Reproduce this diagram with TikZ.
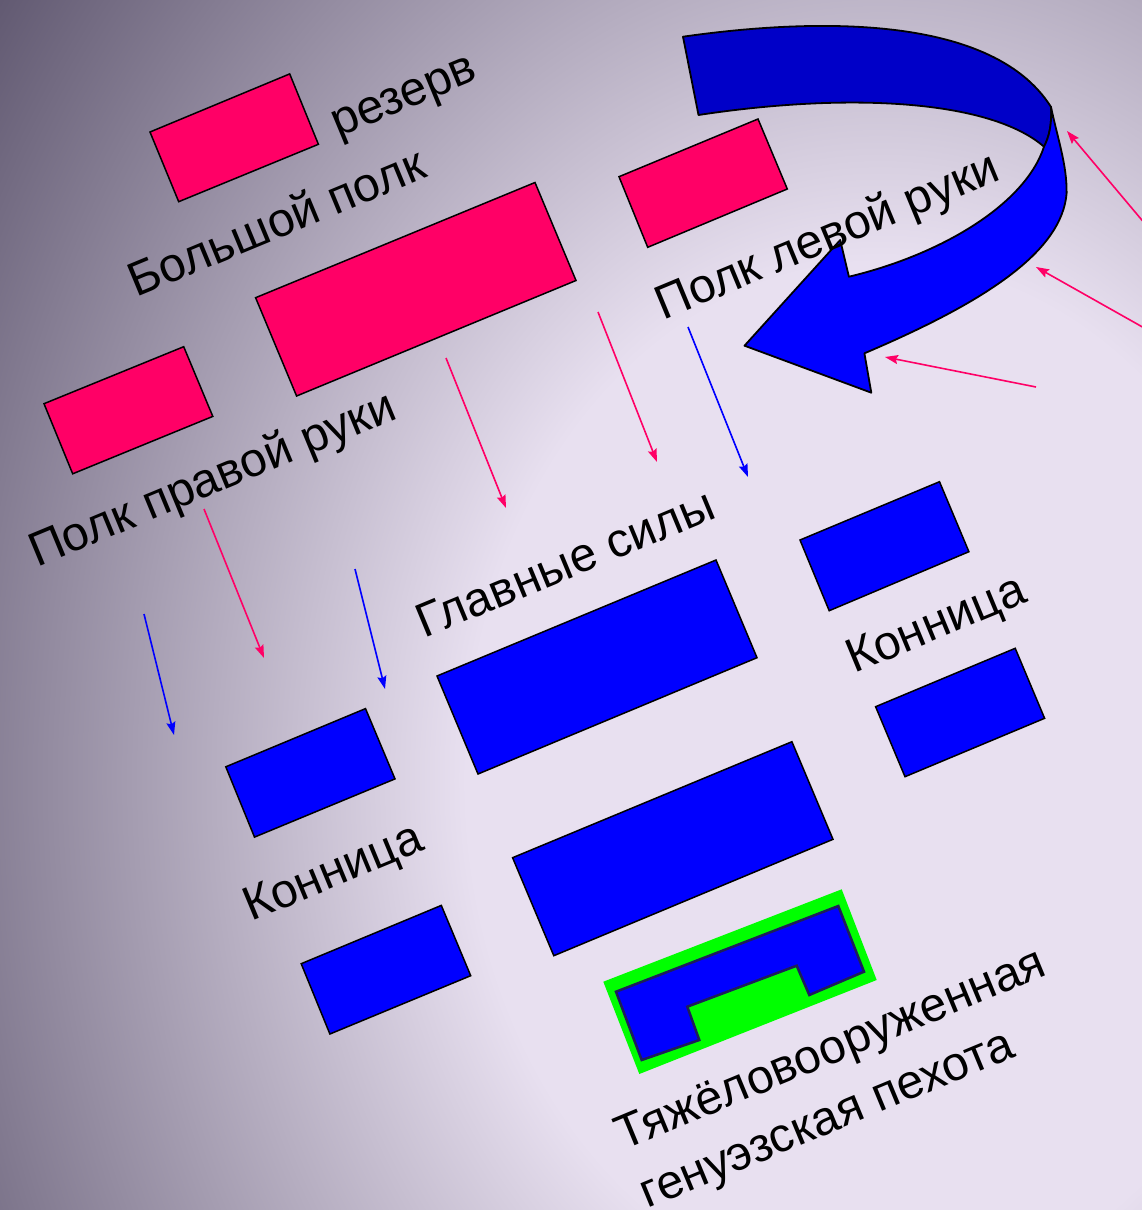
\documentclass[tikz,border=0pt]{standalone}
\usepackage{fontspec}
\setmainfont{Liberation Sans}
\usetikzlibrary{arrows.meta}
\definecolor{pinkc}{HTML}{FF0066}
\definecolor{bluec}{HTML}{0000FF}
\definecolor{ribbondark}{HTML}{0000C8}
\definecolor{greenc}{HTML}{00FF00}
\definecolor{glowc}{HTML}{1E1E5A}
\definecolor{bgl}{HTML}{E8E0F0}
\definecolor{bgd}{HTML}{625A72}
\definecolor{bge}{HTML}{5C546C}
\pgfdeclareradialshading{bgshade}{\pgfpoint{0bp}{0bp}}{color(0bp)=(bgl); color(9.4bp)=(bgl); color(24.5bp)=(bgd); color(25bp)=(bge); color(50bp)=(bge)}
\tikzset{
  pinkbox/.style={draw=black, line width=1.5pt, fill=pinkc, line join=miter},
  bluebox/.style={draw=black, line width=1.5pt, fill=bluec, line join=miter},
  ribbon/.style={draw=black, line width=1.8pt, line join=round},
  lbl/.style={font=\fontsize{48}{63}\selectfont, rotate=22.5, inner sep=0pt, text=black},
  parrow/.style={draw=pinkc, line width=1.6pt, -{Stealth[length=13pt,width=9pt,inset=2pt]}},
  barrow/.style={draw=bluec, line width=1.6pt, -{Stealth[length=13pt,width=9pt,inset=2pt]}},
}
\begin{document}
\begin{tikzpicture}[x=1pt,y=-1pt]
\useasboundingbox (0,0) rectangle (1142,1210);
% background
\begin{scope}
\clip (0,0) rectangle (1142,1210);
\shade[shading=bgshade] (-220,-595) rectangle (1980,2155);
\end{scope}

% pink (Russian) formations
\draw[pinkbox] (150,132) -- (289.7,73.9) -- (318.4,144.3) -- (178.7,201.7) -- cycle;
\draw[pinkbox] (255.6,297.7) -- (535,182.5) -- (576,280.5) -- (296.6,396) -- cycle;
\draw[pinkbox] (44,403.7) -- (183.7,346.7) -- (212.8,416.4) -- (72.7,473.8) -- cycle;
\draw[pinkbox] (619,176.7) -- (758,119) -- (787.3,189) -- (647.7,247.3) -- cycle;

% blue (Mamai) formations
\draw[bluebox] (437,676) -- (716,560) -- (757,657.7) -- (478,774) -- cycle;
\draw[bluebox] (800,540) -- (939.5,481.7) -- (968.9,551.7) -- (829.2,610.7) -- cycle;
\draw[bluebox] (875.6,706.7) -- (1015.2,648.3) -- (1044.6,718.3) -- (905,776.7) -- cycle;
\draw[bluebox] (512.6,857.7) -- (791.9,741.7) -- (833,839.3) -- (553.8,955.7) -- cycle;
\draw[bluebox] (225.8,766.8) -- (365.5,708.6) -- (395,778.9) -- (254.5,837.1) -- cycle;
\draw[bluebox] (301.2,963.7) -- (441.3,905.4) -- (470.7,975.7) -- (329.9,1034) -- cycle;

% Genoese infantry
\fill[greenc] (603.3,981.7) -- (841.7,889.3) -- (876.7,980) -- (639.3,1074) -- cycle;
\draw[draw=glowc, line width=2.5pt, fill=bluec, line join=miter]
  (616,991.7) -- (838.3,906) -- (864,971.7) -- (809.3,995) -- (796.7,965.7)
  -- (687.3,1006.7) -- (699.3,1040) -- (641.7,1060) -- cycle;

% big curved arrow: back band
\draw[ribbon, fill=ribbondark]
  (683,36.7) .. controls (800,20) and (990,10) .. (1051,107)
  .. controls (1052,125) and (1049,137) .. (1044,146.7)
  .. controls (990,100) and (850,92) .. (698.5,115) -- cycle;
% front band with head
\draw[ribbon, fill=bluec]
  (1051,107) .. controls (1058,140) and (1067,165) .. (1066.6,193.3)
  .. controls (1062,250) and (990,300) .. (864.4,353.3)
  -- (871.3,392.7) -- (744.5,345.7) -- (840.2,240) -- (848.9,276.7)
  .. controls (940,255) and (1025,205) .. (1044,146.7)
  .. controls (1049,137) and (1052,125) .. (1051,107) -- cycle;

% thin arrows
\coordinate (pa1s) at (446,358);  \coordinate (pa1e) at (506,508);
\coordinate (pa2s) at (598,312);  \coordinate (pa2e) at (657,462);
\coordinate (pa3s) at (204,509);  \coordinate (pa3e) at (264,658);
\coordinate (pa4s) at (1146,225); \coordinate (pa4e) at (1067,131);
\coordinate (pa5s) at (1146,329); \coordinate (pa5e) at (1036,267);
\coordinate (pa6s) at (1036,387); \coordinate (pa6e) at (885,357);
\coordinate (ba1s) at (688,327);  \coordinate (ba1e) at (748,477);
\coordinate (ba2s) at (355,569);  \coordinate (ba2e) at (385,689);
\coordinate (ba3s) at (144,614);  \coordinate (ba3e) at (174,735);
\draw[parrow] (pa1s) -- (pa1e);
\draw[parrow] (pa2s) -- (pa2e);
\draw[parrow] (pa3s) -- (pa3e);
\draw[parrow] (pa4s) -- (pa4e);
\draw[parrow] (pa5s) -- (pa5e);
\draw[parrow] (pa6s) -- (pa6e);
\draw[barrow] (ba1s) -- (ba1e);
\draw[barrow] (ba2s) -- (ba2e);
\draw[barrow] (ba3s) -- (ba3e);

% labels
\node[lbl] (rezerv) at (406,101) {резерв};
\node[lbl] (bolshoy) at (276,221) {Большой полк};
\node[lbl] (pravoy) at (213,481) {Полк правой руки};
\node[lbl] (levoy) at (828,238) {Полк левой руки};
\node[lbl] (glavnye) at (565,563) {Главные силы};
\node[lbl] (konR) at (937,627) {Конница};
\node[lbl] (konL) at (334,875) {Конница};
\node[lbl, align=left] (pehota) at (844,1081) {Тяжёловооруженная\\генуэзская пехота};
\end{tikzpicture}
\end{document}
